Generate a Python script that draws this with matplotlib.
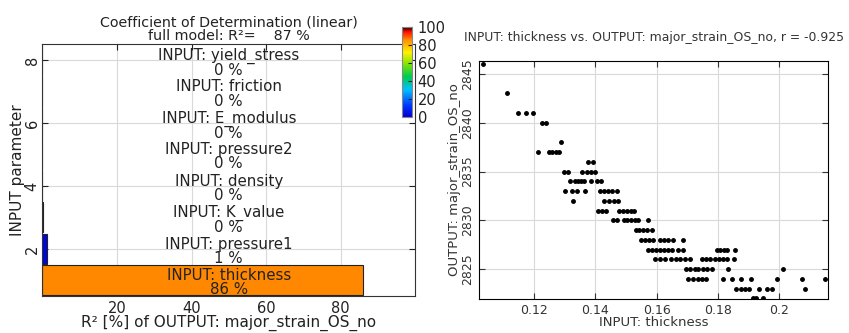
import numpy as np
import matplotlib
matplotlib.use('Agg')
import matplotlib.pyplot as plt
from matplotlib.colors import LinearSegmentedColormap

# --- left chart data: R2 of each input on the output ---
params = ['thickness', 'pressure1', 'K_value', 'density',
          'pressure2', 'E_modulus', 'friction', 'yield_stress']
r2_values = [86.0, 1.2, 0.1, 0.0, 0.0, 0.0, 0.0, 0.0]
r2_labels = ['86 %', '1 %', '0 %', '0 %', '0 %', '0 %', '0 %', '0 %']
full_model_r2 = 87
cbar_ticks = [0, 20, 40, 60, 80, 100]

# --- right chart data: thickness vs major strain ---
strain_levels = [2846, 2843, 2841, 2840, 2838, 2837, 2836, 2835, 2834, 2833,
                 2832, 2831, 2830, 2829, 2828, 2827, 2826, 2825, 2824, 2823,
                 2822]
thickness_by_level = [
    [0.1034],
    [0.1110],
    [0.1147, 0.1173, 0.1195],
    [0.1227, 0.1238],
    [0.1289],
    [0.1211, 0.1248, 0.1259, 0.1270, 0.1281],
    [0.1376, 0.1392],
    [0.1296, 0.1309, 0.1357, 0.1371, 0.1387, 0.1400],
    [0.1316, 0.1333, 0.1343, 0.1352, 0.1362, 0.1384, 0.1405, 0.1419],
    [0.1302, 0.1322, 0.1341, 0.1366, 0.1414, 0.1427, 0.1441, 0.1454, 0.1470],
    [0.1327, 0.1427, 0.1445, 0.1459, 0.1474],
    [0.1409, 0.1421, 0.1433, 0.1477, 0.1489, 0.1502, 0.1515, 0.1527],
    [0.1458, 0.1471, 0.1493, 0.1504, 0.1517, 0.1529, 0.1539, 0.1572],
    [0.1531, 0.1543, 0.1556, 0.1569, 0.1583],
    [0.1547, 0.1561, 0.1574, 0.1588, 0.1610, 0.1623, 0.1637, 0.1653, 0.1686],
    [0.1572, 0.1584, 0.1597, 0.1610, 0.1623, 0.1636, 0.1649, 0.1670, 0.1685,
     0.1795, 0.1806, 0.1819, 0.1830, 0.1855],
    [0.1594, 0.1610, 0.1626, 0.1645, 0.1661, 0.1677, 0.1693, 0.1708, 0.1746,
     0.1760, 0.1775, 0.1790, 0.1803, 0.1816, 0.1829, 0.1852],
    [0.1695, 0.1709, 0.1723, 0.1736, 0.1750, 0.1764, 0.1779, 0.1833, 0.2010],
    [0.1702, 0.1718, 0.1733, 0.1748, 0.1762, 0.1815, 0.1844, 0.1874, 0.1906,
     0.1991, 0.2075, 0.2150],
    [0.1858, 0.1873, 0.1887, 0.1902, 0.1934, 0.1960, 0.1975, 0.2084],
    [0.1913, 0.1923, 0.1945],
]
r_value = -0.925

thickness = np.concatenate([np.array(v) for v in thickness_by_level])
strain = np.concatenate([np.full(len(v), lv) for lv, v in zip(strain_levels, thickness_by_level)])

plt.rcParams['font.family'] = 'DejaVu Sans'
txt = '#222222'

# jet-like colour scale as in the colorbar
cmap = LinearSegmentedColormap.from_list('r2', [
    (0.0, (0.0, 0.0, 0.85)), (0.12, (0.0, 0.2, 1.0)), (0.3, (0.0, 0.75, 1.0)),
    (0.45, (0.0, 0.8, 0.3)), (0.6, (0.55, 0.9, 0.0)), (0.72, (1.0, 0.95, 0.0)),
    (0.86, (1.0, 0.55, 0.0)), (0.95, (1.0, 0.05, 0.0)), (1.0, (0.15, 0.0, 0.0))])

fig = plt.figure(figsize=(8.49, 3.33), dpi=100)

# ---------------- left: bar chart ----------------
ax1 = fig.add_axes([0.0498, 0.111, 0.4394, 0.756])
ypos = np.arange(1, len(params) + 1)
colors = [cmap(v / 100.0) for v in r2_values]
ax1.barh(ypos, r2_values, height=0.95, color=colors, edgecolor='#222222', linewidth=0.8, zorder=2)
for y, name, lab in zip(ypos, params, r2_labels):
    ax1.text(50, y - 0.08, 'INPUT: ' + name + '\n' + lab, ha='center', va='center',
             fontsize=10.8, color=txt, zorder=3, linespacing=0.92)
ax1.set_xlim(0, 100)
ax1.set_ylim(0.5, 8.5)
ax1.set_xticks([20, 40, 60, 80])
ax1.set_yticks([2, 4, 6, 8])
ax1.tick_params(direction='in', top=True, right=True, labelsize=10.5, colors=txt, length=4)
ax1.tick_params(axis='y', pad=2)
for lab in ax1.get_yticklabels():
    lab.set_rotation(90)
    lab.set_va('center')
ax1.grid(True, color='#d9d9d9', linewidth=0.8, zorder=0)
ax1.set_axisbelow(True)
ax1.set_xlabel('R² [%] of OUTPUT: major_strain_OS_no', fontsize=11, color=txt, labelpad=-1)
ax1.set_ylabel('INPUT parameter', fontsize=11, color=txt, labelpad=0)
ax1.set_title('Coefficient of Determination (linear)\nfull model: R²=    %d %%' % full_model_r2,
              fontsize=10.3, color=txt, pad=3, linespacing=0.95)
for s in ax1.spines.values():
    s.set_color('#333333')

# colorbar
cax = fig.add_axes([0.4735, 0.6495, 0.0118, 0.269])
sm = plt.cm.ScalarMappable(cmap=cmap, norm=plt.Normalize(0, 100))
cb = fig.colorbar(sm, cax=cax, ticks=cbar_ticks)
cb.ax.tick_params(labelsize=10.5, colors=txt, direction='in', length=3, pad=4)
cb.outline.set_edgecolor('#888888')

# ---------------- right: scatter ----------------
ax2 = fig.add_axes([0.5645, 0.1012, 0.411, 0.7165])
ax2.plot(thickness, strain, 'o', color='black', markersize=2.5, zorder=3, clip_on=True)
ax2.set_xlim(0.1021, 0.2159)
ax2.set_ylim(2821.9, 2846.36)
ax2.set_xticks([0.12, 0.14, 0.16, 0.18, 0.2])
ax2.set_xticklabels(['0.12', '0.14', '0.16', '0.18', '0.2'])
ax2.set_yticks([2825, 2830, 2835, 2840, 2845])
ax2.tick_params(direction='in', top=True, right=True, labelsize=9, colors='#333333', length=4)
for lab in ax2.get_yticklabels():
    lab.set_rotation(90)
    lab.set_va('center')
ax2.grid(True, color='#d9d9d9', linewidth=0.8, zorder=0)
ax2.set_axisbelow(True)
ax2.set_xlabel('INPUT: thickness', fontsize=9.5, color='#333333', labelpad=-1)
ax2.set_ylabel('OUTPUT: major_strain_OS_no', fontsize=9.5, color='#333333', labelpad=0)
ax2.set_title('INPUT: thickness vs. OUTPUT: major_strain_OS_no, r = %.3f' % r_value,
              fontsize=8.9, color='#333333', pad=14)

fig.savefig('out.png', dpi=100)
